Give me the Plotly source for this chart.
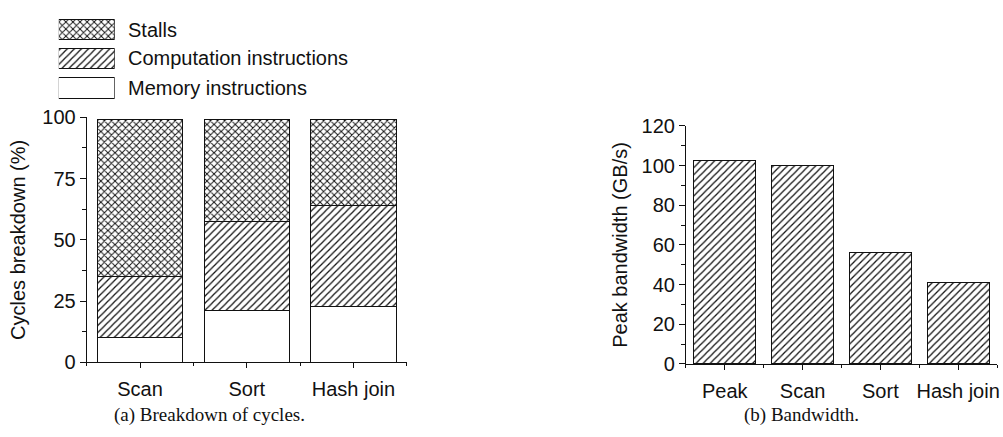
import plotly.graph_objects as go

W, H = 1003, 437

# ---- data ----
categories_a = ["Scan", "Sort", "Hash join"]
memory_instr = [10.2, 21.2, 22.8]
computation_instr = [25.0, 36.5, 41.4]
stalls = [63.8, 41.3, 34.8]

categories_b = ["Peak", "Scan", "Sort", "Hash join"]
bandwidth = [102.6, 100.2, 56.0, 41.2]

legend_labels = ["Memory instructions", "Computation instructions", "Stalls"]
caption_a = "(a) Breakdown of cycles."
caption_b = "(b) Bandwidth."


def fx(p):
    return p / W


def fy(p):
    return 1 - p / H


SANS = "Liberation Sans"
SERIF = "Liberation Serif"
LINE = "#111111"
HATCH = "#111111"
FS = 20

pat_stalls = dict(shape="x", size=5, solidity=0.35, fgcolor=HATCH, bgcolor="white", fillmode="replace")
pat_comp = dict(shape="/", size=5, solidity=0.25, fgcolor=HATCH, bgcolor="white", fillmode="replace")
pat_mem = dict(shape="", bgcolor="white")

fig = go.Figure()

xa = list(range(len(categories_a)))
for name, vals, pat in [
    ("Memory instructions", memory_instr, pat_mem),
    ("Computation instructions", computation_instr, pat_comp),
    ("Stalls", stalls, pat_stalls),
]:
    fig.add_trace(go.Bar(
        x=xa, y=vals, name=name, width=0.8,
        marker=dict(color="white", pattern=pat, line=dict(color=LINE, width=1)),
        xaxis="x", yaxis="y", showlegend=False,
    ))

xb = list(range(len(categories_b)))
fig.add_trace(go.Bar(
    x=xb, y=bandwidth, name="Peak bandwidth", width=0.8,
    marker=dict(color="white", pattern=pat_comp, line=dict(color=LINE, width=1)),
    xaxis="x2", yaxis="y2", showlegend=False,
))

# custom legend (pattern swatches)
for i, (lab, pat) in enumerate(zip(legend_labels, [pat_mem, pat_comp, pat_stalls])):
    fig.add_trace(go.Bar(
        x=[1], y=[i], orientation="h", width=0.7, name=lab,
        marker=dict(color="white", pattern=pat, line=dict(color=LINE, width=1)),
        xaxis="x3", yaxis="y3", showlegend=False, hoverinfo="skip",
    ))

axis_common = dict(
    showline=True, linecolor=LINE, linewidth=1, showgrid=False, zeroline=False,
    ticks="outside", tickcolor=LINE, tickwidth=1,
    tickfont=dict(family=SANS, size=FS, color="#111"),
)

fig.update_layout(
    width=W, height=H,
    margin=dict(l=0, r=0, t=0, b=0),
    paper_bgcolor="white", plot_bgcolor="white",
    barmode="stack",
    font=dict(family=SANS, size=FS, color="#111"),
    xaxis=dict(
        domain=[fx(87), fx(408)], range=[-0.5, 2.5], anchor="y",
        tickvals=xa, ticktext=categories_a, ticklen=5, ticklabelstandoff=4,
        minor=dict(tickvals=[-0.5, 0.5, 1.5, 2.5], ticks="outside", ticklen=3, tickcolor=LINE),
        **axis_common,
    ),
    yaxis=dict(
        domain=[fy(370), fy(112)], range=[0, 100], anchor="x",
        tickvals=[0, 25, 50, 75, 100], ticklen=6,
        minor=dict(dtick=12.5, tick0=0, ticks="outside", ticklen=4, tickcolor=LINE),
        title=dict(text="Cycles breakdown (%)", font=dict(family=SANS, size=FS), standoff=11),
        **axis_common,
    ),
    xaxis2=dict(
        domain=[fx(688), fx(1000)], range=[-0.5, 3.5], anchor="y2",
        tickvals=xb, ticktext=categories_b, ticklen=5, ticklabelstandoff=4,
        minor=dict(tickvals=[-0.5, 0.5, 1.5, 2.5, 3.5], ticks="outside", ticklen=3, tickcolor=LINE),
        **axis_common,
    ),
    yaxis2=dict(
        domain=[fy(371.7), fy(121)], range=[0, 120], anchor="x2",
        tickvals=[0, 20, 40, 60, 80, 100, 120], ticklen=6,
        minor=dict(dtick=10, tick0=0, ticks="outside", ticklen=4, tickcolor=LINE),
        title=dict(text="Peak bandwidth (GB/s)", font=dict(family=SANS, size=FS), standoff=8),
        **axis_common,
    ),
    xaxis3=dict(domain=[fx(59), fx(115)], range=[0, 1], visible=False, anchor="y3", fixedrange=True),
    yaxis3=dict(domain=[fy(96.4), fy(4.1)], range=[-0.5, 2.5], visible=False, anchor="x3", fixedrange=True),
)

# legend texts
row_centers = [81, 50, 19.5]
for lab, yc in zip(legend_labels, row_centers):
    fig.add_annotation(
        text=lab, x=fx(126), y=fy(yc), xref="paper", yref="paper",
        xanchor="left", yanchor="middle", showarrow=False,
        font=dict(family=SANS, size=FS, color="#111"),
    )

fig.add_annotation(text=caption_a, x=fx(210), y=fy(425), xref="paper", yref="paper",
                   xanchor="center", yanchor="middle", showarrow=False,
                   font=dict(family=SERIF, size=19, color="#111"))
fig.add_annotation(text=caption_b, x=fx(804), y=fy(425), xref="paper", yref="paper",
                   xanchor="center", yanchor="middle", showarrow=False,
                   font=dict(family=SERIF, size=19, color="#111"))

fig.write_html("out.html")
